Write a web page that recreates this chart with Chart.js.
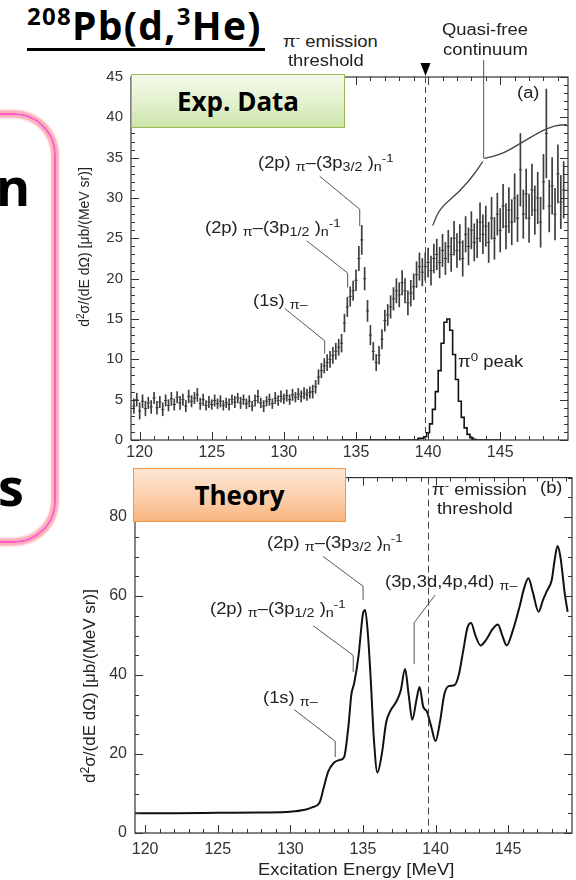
<!DOCTYPE html>
<html>
<head>
<meta charset="utf-8">
<script src="https://cdn.jsdelivr.net/npm/chart.js@4.4.0/dist/chart.umd.min.js"></script>
<style>
  body { margin: 0; width: 576px; height: 880px; background: #fff; position: relative; overflow: hidden;
         font-family: "Liberation Sans", Arial, sans-serif; color: #222; }
  canvas { position: absolute; }
  .abs { position: absolute; white-space: nowrap; line-height: 1; z-index: 5; }
  .lab { font-size: 16px; color: #222; transform: scaleX(1.15); transform-origin: 0 0; }
  .s { font-size: 0.78em; position: relative; top: 0.28em; }
  .u { font-size: 0.72em; position: relative; top: -0.5em; }
  .box { position: absolute; z-index: 4; display: flex; align-items: center; justify-content: center;
         font-family: "Open Sans", sans-serif; font-weight: 700; font-size: 26px; color: #000; box-sizing: border-box; }
  .ytitle { position: absolute; white-space: nowrap; transform: translate(-50%, -50%) rotate(-90deg); z-index: 5; }
</style>
</head>
<body>

<canvas id="expChart" width="506" height="415" style="left:70px; top:60px;"></canvas>
<canvas id="theoryChart" width="506" height="420" style="left:70px; top:460px;"></canvas>

<!-- slide decoration on the left -->
<div style="position:absolute; left:-44px; top:113px; width:100px; height:430px; border-radius:42px; box-sizing:border-box;
            border:2px solid #ff5cc8; box-shadow:0 0 2px 3px rgba(240,110,120,0.55), inset 0 0 2px 3px rgba(240,110,120,0.55);"></div>
<div class="abs" style="left:-4px; top:160px; font-family:'Open Sans',sans-serif; font-weight:700; font-size:52px; color:#000;">n</div>
<div class="abs" style="left:-2px; top:460px; font-family:'Open Sans',sans-serif; font-weight:700; font-size:52px; color:#000;">s</div>

<!-- title -->
<div class="abs" style="left:27px; top:5px; font-family:'Open Sans',sans-serif; font-weight:700; font-size:39px; letter-spacing:1.3px; color:#000;">
  <span style="font-size:24px; position:relative; top:-15px;">208</span>Pb(d,<span style="font-size:24px; position:relative; top:-15px;">3</span>He)
</div>
<div style="position:absolute; left:27px; top:48px; width:238px; height:3px; background:#000;"></div>

<!-- boxes -->
<div class="box" style="left:131px; top:74px; width:214px; height:54px; border:1.5px solid #9bbb59;
     background:linear-gradient(#f4faec, #e0efc9 60%, #cbe4a8);">Exp. Data</div>
<div class="box" style="left:133px; top:468px; width:213px; height:54px; border:1.5px solid #f79646;
     background:linear-gradient(#fde6d4, #fbcfab 55%, #f8b681);">Theory</div>

<!-- top panel labels -->
<div class="abs lab" style="left:283px; top:34px;">π<span class="u">-</span> emission</div>
<div class="abs lab" style="left:288px; top:53px;">threshold</div>
<div class="abs lab" style="left:442px; top:22px;">Quasi-free</div>
<div class="abs lab" style="left:443px; top:42px;">continuum</div>
<div class="abs lab" style="left:517px; top:85px;">(a)</div>
<div class="abs lab" style="left:258px; top:155px;">(2p) <span class="s">π</span>–(3p<span class="s">3/2</span> )<span class="s">n</span><span class="u">-1</span></div>
<div class="abs lab" style="left:205px; top:220px;">(2p) <span class="s">π</span>–(3p<span class="s">1/2</span> )<span class="s">n</span><span class="u">-1</span></div>
<div class="abs lab" style="left:253px; top:293px;">(1s) <span class="s">π–</span></div>
<div class="abs lab" style="left:458px; top:354px;">π<span class="u">0</span> peak</div>

<!-- bottom panel labels -->
<div class="abs lab" style="left:432px; top:482px;">π<span class="u">-</span> emission</div>
<div class="abs lab" style="left:437px; top:501px;">threshold</div>
<div class="abs lab" style="left:540px; top:480px;">(b)</div>
<div class="abs lab" style="left:267px; top:535px;">(2p) <span class="s">π</span>–(3p<span class="s">3/2</span> )<span class="s">n</span><span class="u">-1</span></div>
<div class="abs lab" style="left:210px; top:601px;">(2p) <span class="s">π</span>–(3p<span class="s">1/2</span> )<span class="s">n</span><span class="u">-1</span></div>
<div class="abs lab" style="left:385px; top:574px;">(3p,3d,4p,4d) <span class="s">π–</span></div>
<div class="abs lab" style="left:263px; top:690px;">(1s) <span class="s">π–</span></div>

<!-- axis titles -->
<div class="ytitle" style="left:84px; top:247px; font-size:14px;">d<span class="u">2</span>σ/(dE dΩ) [μb/(MeV sr)]</div>
<div class="ytitle" style="left:90px; top:686px; font-size:17px;">d<span class="u">2</span>σ/(dE dΩ) [μb/(MeV sr)]</div>
<div class="abs lab" style="left:258px; top:862px;">Excitation Energy [MeV]</div>

<script>
// ---- experimental spectrum (a): bin centre [MeV], value, error ----
const expE = [
  119.6,119.8,120.0,120.2,120.4,120.6,120.8,121.0,121.2,121.4,
  121.6,121.8,122.0,122.2,122.4,122.6,122.8,123.0,123.2,123.4,
  123.6,123.8,124.0,124.2,124.4,124.6,124.8,125.0,125.2,125.4,
  125.6,125.8,126.0,126.2,126.4,126.6,126.8,127.0,127.2,127.4,
  127.6,127.8,128.0,128.2,128.4,128.6,128.8,129.0,129.2,129.4,
  129.6,129.8,130.0,130.2,130.4,130.6,130.8,131.0,131.2,131.4,
  131.6,131.8,132.0,132.2,132.4,132.6,132.8,133.0,133.2,133.4,
  133.6,133.8,134.0,134.2,134.4,134.6,134.8,135.0,135.2,135.4,
  135.6,135.8,136.0,136.2,136.4,136.6,136.8,137.0,137.2,137.4,
  137.6,137.8,138.0,138.2,138.4,138.6,138.8,139.0,139.2,139.4,
  139.6,139.8,140.0,140.2,140.4,140.6,140.8,141.0,141.2,141.4,
  141.6,141.8,142.0,142.2,142.4,142.6,142.8,143.0,143.2,143.4,
  143.6,143.8,144.0,144.2,144.4,144.6,144.8,145.0,145.2,145.4,
  145.6,145.8,146.0,146.2,146.4,146.6,146.8,147.0,147.2,147.4,
  147.6,147.8,148.0,148.2,148.4,148.6,148.8,149.0,149.2,149.4
];
const expV = [
  4.2,5.0,3.6,4.8,3.9,4.6,4.1,5.2,4.0,4.7,
  3.8,4.9,4.3,5.1,4.4,5.3,4.6,5.0,4.2,5.4,
  4.8,5.2,5.6,4.5,5.0,4.3,4.7,4.4,4.9,4.5,
  4.8,4.3,4.6,4.4,5.0,4.7,5.2,4.6,5.0,4.5,
  4.8,4.2,4.9,5.4,4.6,4.2,4.8,5.0,4.5,5.2,
  4.9,5.4,5.1,5.5,5.0,5.6,5.3,5.7,5.4,5.8,
  5.6,5.9,6.0,6.6,7.8,8.6,9.2,9.6,10.0,10.5,
  11.0,11.5,12.0,14.5,16.5,17.8,18.5,19.8,22.5,24.8,
  20.0,16.0,13.0,11.0,9.6,10.5,12.5,14.8,15.5,16.5,
  17.5,18.5,18.0,19.5,18.5,17.0,18.2,19.0,20.5,21.5,
  20.8,21.5,22.0,21.0,22.5,23.0,22.0,23.5,22.5,24.0,
  23.0,25.0,23.5,24.5,22.5,25.5,24.0,26.0,24.5,25.0,
  27.0,25.5,26.5,24.5,27.5,25.0,28.0,26.0,29.0,26.5,
  28.5,27.0,30.0,27.5,33.5,28.0,30.5,27.5,31.0,28.5,
  30.0,27.0,32.0,38.0,29.0,31.5,28.0,33.0,29.5,31.0
];
const expErr = [
  0.9,0.8,1.0,0.8,0.9,0.7,0.8,0.7,0.8,0.7,
  0.8,0.7,0.7,0.8,0.7,0.7,0.8,0.7,0.7,0.8,
  0.7,0.7,0.8,0.7,0.7,0.6,0.7,0.6,0.7,0.6,
  0.7,0.6,0.6,0.7,0.6,0.7,0.6,0.7,0.6,0.6,
  0.7,0.6,0.7,0.8,0.6,0.7,0.6,0.7,0.6,0.7,
  0.6,0.7,0.6,0.7,0.6,0.7,0.6,0.7,0.7,0.7,
  0.7,0.7,0.8,0.8,0.9,0.9,0.9,1.0,1.0,1.0,
  1.0,1.0,1.1,1.1,1.2,1.2,1.2,1.3,1.5,1.8,
  1.4,1.3,1.2,1.1,1.0,1.1,1.2,1.3,1.3,1.4,
  1.4,1.5,1.5,1.5,1.5,1.5,1.6,1.6,1.6,1.7,
  1.7,1.7,1.8,1.8,1.8,1.9,1.9,2.0,2.0,2.0,
  2.1,2.1,2.1,2.2,2.2,2.2,2.3,2.3,2.3,2.4,
  2.4,2.4,2.5,2.5,2.6,2.6,2.6,2.7,2.7,2.8,
  2.8,2.8,3.0,2.9,4.5,3.0,3.1,3.0,3.2,3.0,
  3.2,3.1,3.4,5.5,3.2,3.5,3.2,3.6,3.3,3.5
];

// pi0 peak histogram
const pi0E = [134.0,135.0,136.0,137.0,138.0,139.0,139.6,139.8,140.0,140.2,140.4,140.6,140.8,141.0,141.2,141.4,
              141.6,141.8,142.0,142.2,142.4,142.6,142.8,143.0,143.2,143.4,144.0,145.0];
const pi0V = [0,0,0,0,0,0,0.2,0.4,0.9,2.0,3.8,6.0,8.6,12.0,14.6,15.0,
              13.6,10.6,7.5,4.8,2.8,1.5,0.7,0.3,0.1,0,0,0];

// ---- theory curve (b) ----
const thE = [119.3,122,125,128,130,131,131.5,132.0,132.3,132.6,133.0,133.4,133.7,134.0,134.2,134.4,134.7,
             135.0,135.15,135.35,135.55,135.75,136.0,136.3,136.6,136.9,137.3,137.6,137.9,138.15,138.4,138.7,
             138.9,139.15,139.4,139.7,140.0,140.3,140.6,140.9,141.3,141.6,141.9,142.2,142.45,142.75,143.1,
             143.5,143.9,144.3,144.6,144.9,145.3,145.8,146.1,146.4,146.7,147.1,147.4,147.7,148.0,148.2,
             148.4,148.6,148.9,149.1];
const thV = [5.0,5.0,5.1,5.2,5.4,5.9,6.5,7.6,11.5,15.5,17.8,18.5,19.2,27,35,38,45,
             55.5,56.5,50,38,24,15.3,20,28,31,33.3,36,41.5,35,28.7,34,
             37,32,30.8,27,23.3,28,35,37.2,37.4,40,46,52,53.2,50,47.5,
             49,51.5,52.8,50,47.5,51,57.5,62,64.5,61,56,59,61.5,64,69,
             72.7,70,60.7,56];

// frame, inward ticks, threshold line and leader lines, all in data coordinates
const framePlugin = {
  id: 'frame',
  afterDatasetsDraw(chart, args, o) {
    const { ctx, chartArea: a, scales: { x, y } } = chart;
    const P = (e, v) => [x.getPixelForValue(e), y.getPixelForValue(v)];
    ctx.save();
    ctx.strokeStyle = '#333';
    ctx.lineWidth = 1.2;
    ctx.strokeRect(a.left, a.top, a.right - a.left, a.bottom - a.top);

    ctx.lineWidth = 1;
    ctx.beginPath();
    for (let v = Math.ceil(x.min); v <= x.max; v += 1) {
      const px = Math.round(x.getPixelForValue(v)) + 0.5;
      const len = v % 5 === 0 ? 8 : 4;
      ctx.moveTo(px, a.bottom); ctx.lineTo(px, a.bottom - len);
      ctx.moveTo(px, a.top); ctx.lineTo(px, a.top + len);
    }
    for (let v = 0; v <= y.max; v += o.minorY) {
      const py = Math.round(y.getPixelForValue(v)) + 0.5;
      const len = v % o.majorY === 0 ? 8 : 4;
      ctx.moveTo(a.left, py); ctx.lineTo(a.left + len, py);
      ctx.moveTo(a.right, py); ctx.lineTo(a.right - len, py);
    }
    ctx.stroke();

    // threshold
    const tx = Math.round(x.getPixelForValue(o.threshold)) + 0.5;
    ctx.setLineDash(o.dash);
    ctx.strokeStyle = '#444';
    ctx.beginPath();
    ctx.moveTo(tx, a.top); ctx.lineTo(tx, a.bottom);
    ctx.stroke();
    ctx.setLineDash([]);

    // leader lines
    ctx.strokeStyle = '#555';
    ctx.lineWidth = 1;
    (o.leaders || []).forEach(pts => {
      ctx.beginPath();
      pts.forEach((p, i) => { const [px, py] = P(p[0], p[1]); i ? ctx.lineTo(px, py) : ctx.moveTo(px, py); });
      ctx.stroke();
    });
    // smooth brace
    (o.curves || []).forEach(pts => {
      const q = pts.map(p => P(p[0], p[1]));
      ctx.beginPath();
      ctx.moveTo(q[0][0], q[0][1]);
      for (let i = 1; i < q.length - 1; i++) {
        ctx.quadraticCurveTo(q[i][0], q[i][1], (q[i][0] + q[i + 1][0]) / 2, (q[i][1] + q[i + 1][1]) / 2);
      }
      ctx.lineTo(q[q.length - 1][0], q[q.length - 1][1]);
      ctx.strokeStyle = '#444';
      ctx.lineWidth = 1.3;
      ctx.stroke();
    });
    // arrow onto the threshold
    if (o.arrow) {
      ctx.fillStyle = '#000';
      ctx.beginPath();
      ctx.moveTo(tx, a.top - 1);
      ctx.lineTo(tx - 5, a.top - 14);
      ctx.lineTo(tx + 5, a.top - 14);
      ctx.closePath();
      ctx.fill();
    }
    ctx.restore();
  }
};

const tickFont = { family: '"Liberation Sans", Arial, sans-serif', size: 16 };

new Chart(document.getElementById('expChart'), {
  type: 'bar',
  data: {
    datasets: [
      {
        type: 'bar',
        data: expE.map((e, i) => ({ x: e, y: [expV[i] - expErr[i], expV[i] + expErr[i]] })),
        backgroundColor: '#3c3c3c',
        borderWidth: 0,
        barThickness: 1,
        grouped: false
      },
      {
        type: 'scatter',
        data: expE.map((e, i) => ({ x: e, y: expV[i] })),
        pointStyle: 'line',
        pointRadius: 1.6,
        borderColor: '#3c3c3c',
        borderWidth: 1,
        showLine: false
      },
      {
        type: 'line',
        data: pi0E.map((e, i) => ({ x: e, y: pi0V[i] })),
        borderColor: '#111',
        borderWidth: 1.6,
        pointRadius: 0,
        stepped: 'middle'
      }
    ]
  },
  options: {
    responsive: false,
    animation: false,
    layout: { padding: { left: 0, right: 8, top: 15, bottom: 0 } },
    plugins: {
      legend: { display: false },
      tooltip: { enabled: false },
      frame: {
        minorY: 1, majorY: 5, threshold: 139.8, dash: [6, 4], arrow: true,
        leaders: [
          [[135.6, 48.1], [139.7, 47.2]],
          [[143.85, 47.2], [143.85, 34.9]],
          [[132.48, 32.7], [135.26, 28.6], [135.26, 26.5]],
          [[131.58, 24.7], [134.42, 20.7], [134.42, 18.9]],
          [[130.06, 16.3], [132.83, 12.3], [132.83, 10.7]]
        ],
        curves: [
          [[143.79, 34.5], [143.37, 33.3], [142.19, 30.8], [140.8, 28.7], [140.32, 26.6]],
          [[143.9, 34.9], [144.97, 35.3], [146.35, 36.7], [147.74, 38.2], [148.78, 39.0], [149.61, 39.1]]
        ]
      }
    },
    scales: {
      x: {
        type: 'linear', min: 119.4, max: 149.7, offset: false,
        grid: { display: false, drawTicks: false }, border: { display: false },
        ticks: { stepSize: 5, includeBounds: false, padding: 3, font: tickFont, color: '#333', maxRotation: 0 },
        afterFit: s => { s.height = 35; }
      },
      y: {
        min: 0, max: 45,
        grid: { display: false, drawTicks: false }, border: { display: false },
        ticks: { stepSize: 5, includeBounds: false, padding: 8, font: { ...tickFont, size: 15 }, color: '#333' },
        afterFit: s => { s.width = 61; }
      }
    }
  },
  plugins: [framePlugin]
});

new Chart(document.getElementById('theoryChart'), {
  type: 'line',
  data: {
    datasets: [{
      data: thE.map((e, i) => ({ x: e, y: thV[i] })),
      borderColor: '#111',
      borderWidth: 2,
      pointRadius: 0,
      cubicInterpolationMode: 'monotone'
    }]
  },
  options: {
    responsive: false,
    animation: false,
    layout: { padding: { left: 0, right: 4, top: 13, bottom: 0 } },
    plugins: {
      legend: { display: false },
      tooltip: { enabled: false },
      frame: {
        minorY: 5, majorY: 20, threshold: 139.5, dash: [7, 4],
        leaders: [
          [[132.26, 70], [135.01, 62.5], [135.01, 59]],
          [[131.57, 52.5], [134.33, 45], [134.33, 40.75]],
          [[139.97, 60.25], [138.53, 53.25], [138.53, 42.75]],
          [[130.26, 31.25], [133.09, 23.25], [133.09, 19.25]]
        ]
      }
    },
    scales: {
      x: {
        type: 'linear', min: 119.3, max: 149.4,
        grid: { display: false, drawTicks: false }, border: { display: false },
        ticks: { stepSize: 5, includeBounds: false, padding: 7, font: tickFont, color: '#333', maxRotation: 0 },
        afterFit: s => { s.height = 47; }
      },
      y: {
        min: 0, max: 90,
        grid: { display: false, drawTicks: false }, border: { display: false },
        ticks: { stepSize: 20, includeBounds: false, padding: 8, font: tickFont, color: '#333' },
        afterFit: s => { s.width = 65; }
      }
    }
  },
  plugins: [framePlugin]
});
</script>
</body>
</html>
